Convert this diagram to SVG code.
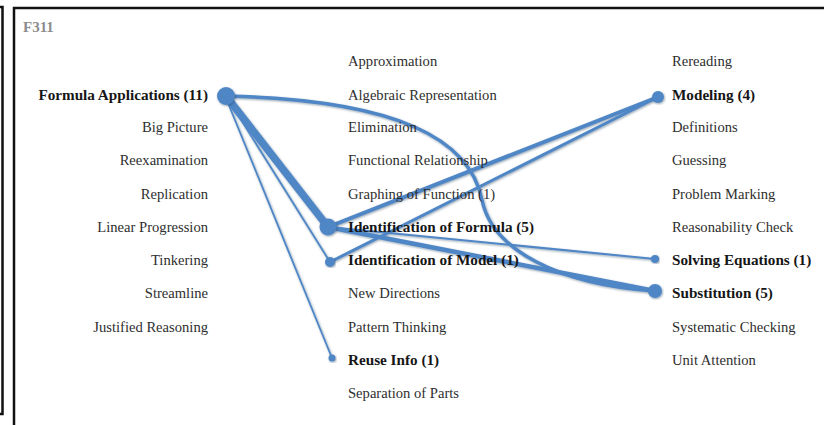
<svg xmlns="http://www.w3.org/2000/svg" width="824" height="425" viewBox="0 0 824 425">
  <style>
    .lbl { font-family: "Liberation Serif", "Times New Roman", serif; font-size: 14.6px; fill: #2e2e2e; }
    .hot { font-family: "Liberation Serif", "Times New Roman", serif; font-size: 15.2px; font-weight: bold; fill: #161616; }
    .rt { text-anchor: end; }
    .title { font-family: "Liberation Serif", "Times New Roman", serif; font-size: 15px; font-weight: bold; fill: #8c8c8c; }
    .link { fill: none; stroke: #4f86c6; stroke-linecap: round; }
    .dot { fill: #4f86c6; }
    .frame { fill: none; stroke: #111; stroke-width: 2.5; }
  </style>
  <defs>
    <filter id="soft" x="-10%" y="-10%" width="120%" height="120%">
      <feDropShadow dx="0.8" dy="1" stdDeviation="0.8" flood-color="#1f3550" flood-opacity="0.45"/>
    </filter>
  </defs>

  <rect width="824" height="425" fill="#fff"/>

  <!-- panel frames -->
  <path class="frame" d="M-5,7 H2.5 V414 H-5"/>
  <path class="frame" d="M830,8 H14 V430"/>

  <text class="title" x="23" y="32">F311</text>

  <!-- connectors -->
  <g id="connectors" filter="url(#soft)">
    <path class="link" stroke-width="3.5" d="M226,96 C400,100 470,140 482,200 C492,250 560,285 655,291"/>
    <line class="link" stroke-width="7.5" x1="226" y1="96" x2="328" y2="227"/>
    <line class="link" stroke-width="1.8" x1="228" y1="99" x2="330" y2="262"/>
    <line class="link" stroke-width="1.8" x1="226" y1="98" x2="332" y2="358"/>
    <line class="link" stroke-width="4" x1="328" y1="227" x2="658" y2="97"/>
    <line class="link" stroke-width="3" x1="330" y1="262" x2="658" y2="97"/>
    <line class="link" stroke-width="2" x1="328" y1="227" x2="655" y2="259"/>
    <path class="link" stroke-width="4.5" d="M328,227 L655,291"/>
  </g>

  <!-- left column -->
  <g id="n-formula-applications">
    <text class="hot rt" x="208" y="99.5">Formula Applications (11)</text>
    <circle class="dot" cx="226" cy="96" r="9" filter="url(#soft)"/>
  </g>
  <g id="n-big-picture"><text class="lbl rt" x="208" y="132">Big Picture</text></g>
  <g id="n-reexamination"><text class="lbl rt" x="208" y="165">Reexamination</text></g>
  <g id="n-replication"><text class="lbl rt" x="208" y="198.5">Replication</text></g>
  <g id="n-linear-progression"><text class="lbl rt" x="208" y="231.5">Linear Progression</text></g>
  <g id="n-tinkering"><text class="lbl rt" x="208" y="265">Tinkering</text></g>
  <g id="n-streamline"><text class="lbl rt" x="208" y="298">Streamline</text></g>
  <g id="n-justified-reasoning"><text class="lbl rt" x="208" y="331.5">Justified Reasoning</text></g>

  <!-- middle column -->
  <g id="n-approximation"><text class="lbl" x="348" y="66">Approximation</text></g>
  <g id="n-algebraic-representation"><text class="lbl" x="348" y="99.5">Algebraic Representation</text></g>
  <g id="n-elimination"><text class="lbl" x="348" y="132">Elimination</text></g>
  <g id="n-functional-relationship"><text class="lbl" x="348" y="165">Functional Relationship</text></g>
  <g id="n-graphing-of-function"><text class="lbl" x="348" y="198.5">Graphing of Function (1)</text></g>
  <g id="n-identification-of-formula">
    <text class="hot" x="348" y="231.5">Identification of Formula (5)</text>
    <circle class="dot" cx="328" cy="227" r="8.5" filter="url(#soft)"/>
  </g>
  <g id="n-identification-of-model">
    <text class="hot" x="348" y="265">Identification of Model (1)</text>
    <circle class="dot" cx="330" cy="262" r="5" filter="url(#soft)"/>
  </g>
  <g id="n-new-directions"><text class="lbl" x="348" y="298">New Directions</text></g>
  <g id="n-pattern-thinking"><text class="lbl" x="348" y="331.5">Pattern Thinking</text></g>
  <g id="n-reuse-info">
    <text class="hot" x="348" y="365">Reuse Info (1)</text>
    <circle class="dot" cx="332" cy="358" r="3.5" filter="url(#soft)"/>
  </g>
  <g id="n-separation-of-parts"><text class="lbl" x="348" y="398">Separation of Parts</text></g>

  <!-- right column -->
  <g id="n-rereading"><text class="lbl" x="672" y="66">Rereading</text></g>
  <g id="n-modeling">
    <text class="hot" x="672" y="99.5">Modeling (4)</text>
    <circle class="dot" cx="658" cy="97" r="6" filter="url(#soft)"/>
  </g>
  <g id="n-definitions"><text class="lbl" x="672" y="132">Definitions</text></g>
  <g id="n-guessing"><text class="lbl" x="672" y="165">Guessing</text></g>
  <g id="n-problem-marking"><text class="lbl" x="672" y="198.5">Problem Marking</text></g>
  <g id="n-reasonability-check"><text class="lbl" x="672" y="231.5">Reasonability Check</text></g>
  <g id="n-solving-equations">
    <text class="hot" x="672" y="265">Solving Equations (1)</text>
    <circle class="dot" cx="655" cy="259" r="4" filter="url(#soft)"/>
  </g>
  <g id="n-substitution">
    <text class="hot" x="672" y="298">Substitution (5)</text>
    <circle class="dot" cx="655" cy="291" r="7" filter="url(#soft)"/>
  </g>
  <g id="n-systematic-checking"><text class="lbl" x="672" y="331.5">Systematic Checking</text></g>
  <g id="n-unit-attention"><text class="lbl" x="672" y="365">Unit Attention</text></g>
</svg>
